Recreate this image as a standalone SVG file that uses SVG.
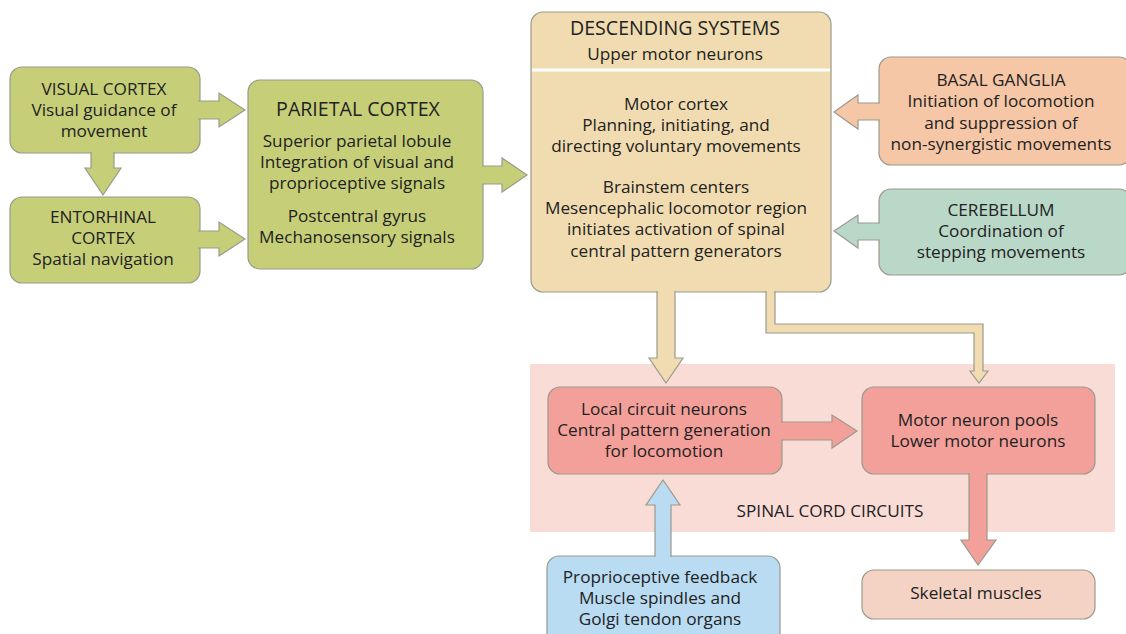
<svg xmlns="http://www.w3.org/2000/svg" width="1126" height="634" viewBox="0 0 1126 634">
<style>
text{font-family:"Open Sans","Noto Sans","Liberation Sans",sans-serif;font-size:17.2px;fill:#222;text-anchor:middle}
.h{font-size:19.6px}
.box{stroke:#9a9a8e;stroke-width:1.2}
.con{stroke:#9a9a8e;stroke-width:1.2;stroke-linejoin:miter}
.g{fill:#c6cf78}.t{fill:#f1dcb1}.o{fill:#f6c7a6}.c{fill:#b9d8c8}.r{fill:#f4a09a}.b{fill:#b9dcf3}.s{fill:#f4d3c4}
</style>
<rect id="spinal-bg" x="530" y="364" width="585" height="168" fill="#fadcd7"/>
<g id="visual-cortex"><rect class="box g" x="10" y="67" width="190" height="86" rx="12"/>
<text x="104" y="95">VISUAL CORTEX</text><text x="104" y="116">Visual guidance of</text><text x="104" y="137">movement</text></g>
<g id="entorhinal-cortex"><rect class="box g" x="10" y="197" width="190" height="86" rx="12"/>
<text x="103" y="223">ENTORHINAL</text><text x="103" y="244">CORTEX</text><text x="103" y="265">Spatial navigation</text></g>
<g id="parietal-cortex"><rect class="box g" x="248" y="80" width="235" height="189" rx="12"/>
<text class="h" x="358" y="116">PARIETAL CORTEX</text>
<text x="357" y="147">Superior parietal lobule</text><text x="357" y="168">Integration of visual and</text><text x="357" y="189">proprioceptive signals</text>
<text x="357" y="222">Postcentral gyrus</text><text x="357" y="243">Mechanosensory signals</text></g>
<g id="descending-systems"><rect class="box t" x="531" y="12" width="300" height="280" rx="12"/>
<line x1="532" y1="70" x2="830" y2="70" stroke="#fff" stroke-width="3"/>
<text class="h" x="675" y="35">DESCENDING SYSTEMS</text><text x="675" y="59.5">Upper motor neurons</text>
<text x="676" y="110">Motor cortex</text><text x="676" y="131">Planning, initiating, and</text><text x="676" y="152">directing voluntary movements</text>
<text x="676" y="193">Brainstem centers</text><text x="676" y="214">Mesencephalic locomotor region</text><text x="676" y="235">initiates activation of spinal</text><text x="676" y="257">central pattern generators</text></g>
<g id="basal-ganglia"><rect class="box o" x="879" y="57" width="252" height="108" rx="12"/>
<text x="1001" y="86">BASAL GANGLIA</text><text x="1001" y="107">Initiation of locomotion</text><text x="1001" y="129">and suppression of</text><text x="1001" y="150">non-synergistic movements</text></g>
<g id="cerebellum"><rect class="box c" x="879" y="189" width="252" height="86" rx="12"/>
<text x="1001" y="216">CEREBELLUM</text><text x="1001" y="237">Coordination of</text><text x="1001" y="258">stepping movements</text></g>
<g id="local-circuit"><rect class="box r" x="548" y="387" width="234" height="87" rx="12"/>
<text x="664" y="415">Local circuit neurons</text><text x="664" y="436">Central pattern generation</text><text x="664" y="457">for locomotion</text></g>
<g id="motor-neuron-pools"><rect class="box r" x="862" y="387" width="233" height="87" rx="12"/>
<text x="978" y="426">Motor neuron pools</text><text x="978" y="447">Lower motor neurons</text></g>
<g id="spinal-label"><text x="830" y="517">SPINAL CORD CIRCUITS</text></g>
<g id="proprioceptive"><rect class="box b" x="547" y="556" width="233" height="95" rx="12"/>
<text x="660" y="583">Proprioceptive feedback</text><text x="660" y="604">Muscle spindles and</text><text x="660" y="625">Golgi tendon organs</text></g>
<g id="skeletal-muscles"><rect class="box s" x="862" y="570" width="233" height="49" rx="12"/>
<text x="976" y="599">Skeletal muscles</text></g>
<g id="connectors">
<path class="con g" d="M198,101 H219 V93 L245,110 L219,127 V119 H198"/>
<path class="con g" d="M198,231 H219 V222 L245,239 L219,256 V248 H198"/>
<path class="con g" d="M91,152 V168 H85 L103,195 L121,168 H114 V152"/>
<path class="con g" d="M482,166 H502 V158 L527,175 L502,192 V184 H482"/>
<path class="con o" d="M880,103 H858 V95 L834,112 L858,129 V120 H880"/>
<path class="con c" d="M880,223 H858 V215 L834,231 L858,248 V240 H880"/>
<path class="con t" d="M657,291 V358 H649 L666,383 L683,358 H675 V291"/>
<path class="con t" d="M766,291 V333 H974 V371 H970 L979,383 L988,371 H983 V324 H775 V291"/>
<path class="con r" d="M781,422 H832 V415 L857,431 L832,448 V440 H781"/>
<path class="con b" d="M655,557 V505 H646 L663,480 L680,505 H671 V557"/>
<path class="con r" d="M969,473 V540 H961 L978,565 L996,540 H987 V473"/>
</g>
</svg>
